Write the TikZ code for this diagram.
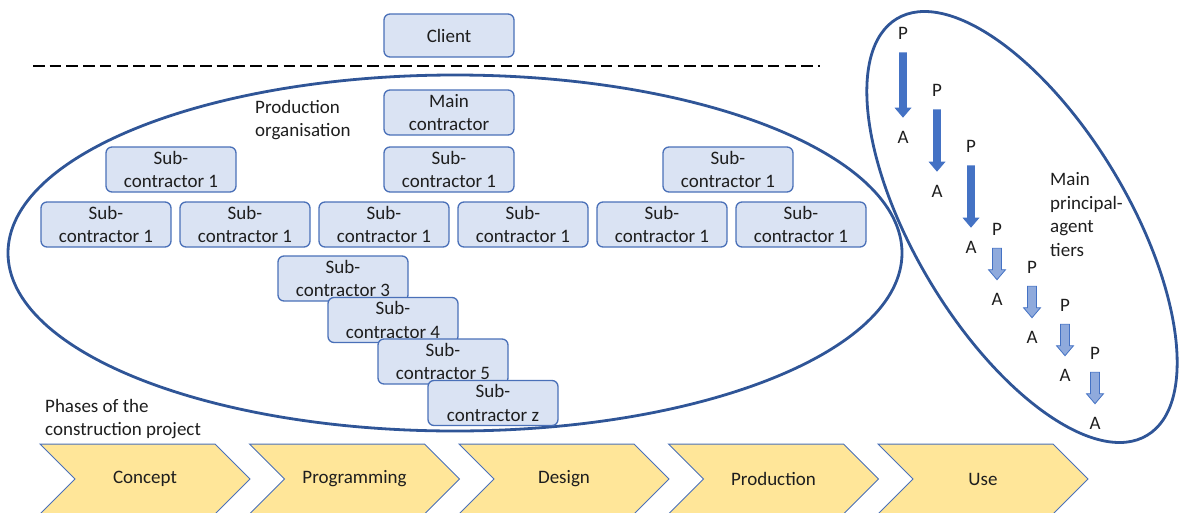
\documentclass[tikz,border=0pt]{standalone}
\usepackage{fontspec}
\setmainfont{Carlito}
\usetikzlibrary{calc}

\definecolor{boxfill}{HTML}{DAE3F3}
\definecolor{boxline}{HTML}{4A70B8}
\definecolor{ringblue}{HTML}{2F5597}
\definecolor{phasefill}{HTML}{FFE699}
\definecolor{phaseline}{HTML}{4A70B8}
\definecolor{tierdark}{HTML}{4472C4}
\definecolor{tierlight}{HTML}{8FAADC}
\definecolor{ink}{HTML}{1E1E1E}

% block arrow from a principal label down to its agent label
\newcommand\tierarrow[4]{%
  \path[#4] let \p1=([yshift=-13pt]#1.south), \p2=([yshift=13pt]#2.north) in
    (\x1-#3pt,\y1) -- (\x1+#3pt,\y1) -- (\x1+#3pt,\y2+10pt) -- (\x1+8.5pt,\y2+10pt)
    -- (\x1,\y2) -- (\x1-8.5pt,\y2+10pt) -- (\x1-#3pt,\y2+10pt) -- cycle;}

% one chevron of the project phases
\newcommand\phase[3]{%
  \draw[phasebox] (#1,-444) -- ++(175,0) -- ++(35,-35) -- ++(-35,-35) -- ++(-175,0) -- ++(35,35) -- cycle;
  \node[txt] (#2) at (#1+105,-479) {#3};}

\begin{document}
\begin{tikzpicture}[x=1pt,y=1pt,
  txt/.style={font=\fontsize{19}{23.5}\selectfont, text=ink, inner sep=0pt},
  orgbox/.style={txt, draw=boxline, fill=boxfill, rounded corners=6pt, line width=1.3pt,
                 minimum width=130pt, minimum height=45pt, align=center},
  ring/.style={draw=ringblue, line width=2.8pt},
  dashline/.style={draw=black, line width=2.4pt, dash pattern=on 11.5pt off 5.2pt},
  phasebox/.style={draw=phaseline, fill=phasefill, line width=1pt},
  darkarrow/.style={fill=tierdark},
  lightarrow/.style={fill=tierlight, draw=tierdark, line width=0.8pt},
]
\useasboundingbox (0,0) rectangle (1179,-512);

% client and the contract boundary
\node[orgbox, minimum height=43pt] (client) at (449,-35.5) {Client};
\draw[dashline] (33,-65.7) -- (820,-65.7);

% production organisation
\draw[ring] (455,-253) ellipse [x radius=447, y radius=178];
\node[txt, anchor=west, align=left] (prodlabel) at (255,-120) {Production\\organisation};

\node[orgbox] (main) at (449,-112.5) {Main\\contractor};

\node[orgbox] (s1a) at (171,-169.5) {Sub-\\contractor 1};
\node[orgbox] (s1b) at (449,-169.5) {Sub-\\contractor 1};
\node[orgbox] (s1c) at (728,-169.5) {Sub-\\contractor 1};

\node[orgbox] (s2a) at (106,-224.5) {Sub-\\contractor 1};
\node[orgbox] (s2b) at (245,-224.5) {Sub-\\contractor 1};
\node[orgbox] (s2c) at (384,-224.5) {Sub-\\contractor 1};
\node[orgbox] (s2d) at (523,-224.5) {Sub-\\contractor 1};
\node[orgbox] (s2e) at (662,-224.5) {Sub-\\contractor 1};
\node[orgbox] (s2f) at (801,-224.5) {Sub-\\contractor 1};

\node[orgbox] (s3) at (343,-278.5) {Sub-\\contractor 3};
\node[orgbox] (s4) at (393,-320) {Sub-\\contractor 4};
\node[orgbox] (s5) at (443,-361.5) {Sub-\\contractor 5};
\node[orgbox] (sz) at (493,-403) {Sub-\\contractor z};

% principal-agent tiers
\draw[ring, rotate around={-59:(1022,-227)}] (1022,-227) ellipse [x radius=243, y radius=107];
\node[txt, anchor=west, align=left] (tierlabel) at (1050,-214.5) {Main\\principal-\\agent\\tiers};

\node[txt] (p1) at (903,-33)  {P};  \node[txt] (a1) at (903,-137) {A};
\node[txt] (p2) at (937,-90)  {P};  \node[txt] (a2) at (937,-191) {A};
\node[txt] (p3) at (971,-146) {P};  \node[txt] (a3) at (971,-247) {A};
\node[txt] (p4) at (997,-229) {P};  \node[txt] (a4) at (997,-299) {A};
\node[txt] (p5) at (1032,-267) {P}; \node[txt] (a5) at (1032,-337) {A};
\node[txt] (p6) at (1065,-305) {P}; \node[txt] (a6) at (1065,-375) {A};
\node[txt] (p7) at (1095,-353) {P}; \node[txt] (a7) at (1095,-423) {A};

\tierarrow{p1}{a1}{3.8}{darkarrow}
\tierarrow{p2}{a2}{3.8}{darkarrow}
\tierarrow{p3}{a3}{3.8}{darkarrow}
\tierarrow{p4}{a4}{4.5}{lightarrow}
\tierarrow{p5}{a5}{4.5}{lightarrow}
\tierarrow{p6}{a6}{4.5}{lightarrow}
\tierarrow{p7}{a7}{4.5}{lightarrow}

% project phases
\node[txt, anchor=west, align=left] (phaselabel) at (45,-419) {Phases of the\\construction project};
\phase{40}{concept}{Concept}
\phase{249.5}{programming}{Programming}
\phase{459}{design}{Design}
\phase{668.5}{production}{Production}
\phase{878}{use}{Use}
\end{tikzpicture}
\end{document}
